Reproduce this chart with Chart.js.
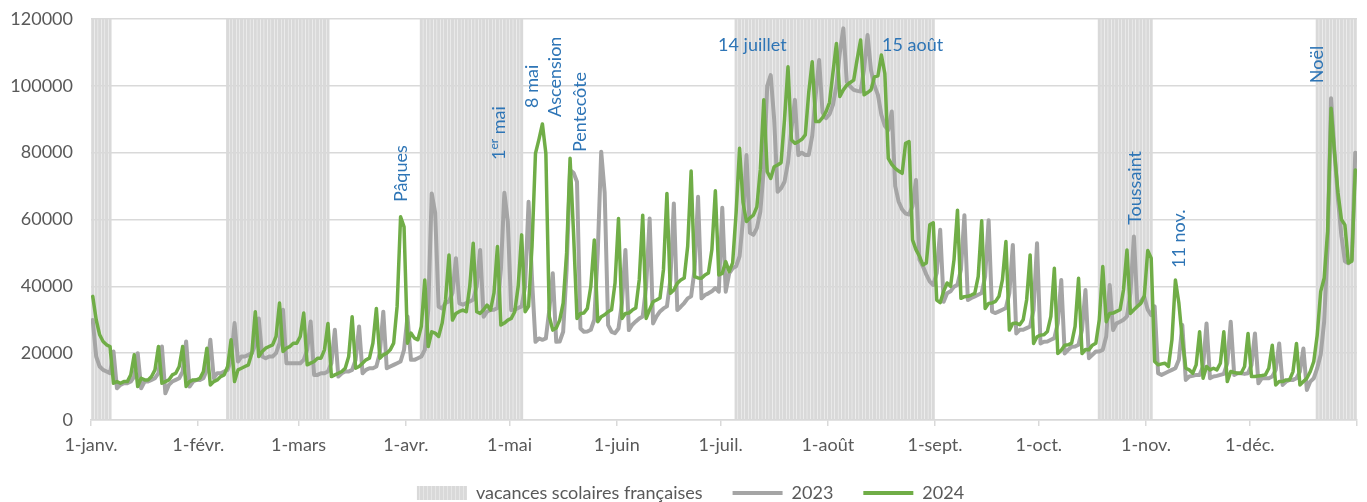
<!DOCTYPE html>
<html>
<head>
<meta charset="utf-8">
<script src="https://cdn.jsdelivr.net/npm/chart.js@4.4.1/dist/chart.umd.min.js"></script>
<style>
  html, body { margin: 0; padding: 0; background: #ffffff; }
  #wrap { width: 1367px; height: 502px; }
</style>
</head>
<body>
<div id="wrap"><canvas id="c" width="1367" height="502"></canvas></div>
<script>
// ---------- DATA ----------
const yearDays = 366;
const monthStartDays = [0, 31, 60, 91, 121, 152, 182, 213, 244, 274, 305, 335];
const monthLabels = ['1-janv.', '1-févr.', '1-mars', '1-avr.', '1-mai', '1-juin', '1-juil.', '1-août', '1-sept.', '1-oct.', '1-nov.', '1-déc.'];
const yTicks = [0, 20000, 40000, 60000, 80000, 100000, 120000];
const seriesNames = ['vacances scolaires françaises', '2023', '2024'];
// school holiday periods (first day index, last day index)
const vacationPeriods = [[0, 5], [39, 68], [95, 124], [186, 243], [291, 306], [354, 365]];
const vacationValue = 120000;

const visits2023 = [
29900, 19000, 16000, 15000, 14500, 14000,
20500, 9500, 10500, 11000, 11000, 11500, 13000,
20000, 9500, 11500, 11500, 12000, 12500, 14000,
22000, 8000, 10500, 11500, 12000, 12500, 14500,
23500, 10000, 11500, 12000, 12000, 12500, 15000,
24000, 12500, 14000, 14000, 14500, 15000, 18000,
29000, 17500, 19000, 19000, 19500, 20000, 22500,
30400, 19000, 18500, 19000, 19000, 20000, 23000,
33000, 17000, 17000, 17000, null, 17000, 18000,
21000, 29500, 13500, 13500, 14000, 14000, 14500,
17000, 27000, 13000, 14000, 14500, 14500, 15000,
18000, 28000, 14000, 15000, 15500, 15500, 16000,
20000, 32400, 15500, 16000, 16500, 17000, 17500,
21000, 31000, 18000, 18000, 18500, 19000, 21000,
33000, 67800, 62000, 33900, 33400, 35000, 35500,
38000, 48400, 34900, 34500, 35000, 35500, 36000,
40000, 50900, 30900, 32400, 32900, 33000, 33500,
45000, 68000, 59400, 32900, 33000, 33500, 34000,
40000, 65300, 42000, 23400, 24400, 24000, 24400,
33000, 43900, 23400, 23500, 26400, 45000, 74800,
74000, 71300, 27400, 26400, 26500, 27000, 30000,
50000, 80300, 68000, 28400, 26400, 26000, 27400,
35000, 50900, 26900, 28500, 29500, 30400, 31000,
40000, 60300, 28900, 31000, 32500, 33400, 34000,
42000, 64800, 32900, 33900, 35000, 36400, 37000,
45000, 66800, 36400, 37400, 37900, 38500, 39500,
38400, 63500, 38400, 43900, 45400, 46000, 49000,
60000, 79300, 56000, 55400, 57400, 62300, 75000,
100000, 103200, 90000, 68300, 69300, 71300, 77000,
87000, 95800, 79300, 80000, 79300, 79300, 85000,
97000, 107700, 92000, 90300, 91500, 94300, 100000,
110000, 117200, 101200, 99800, 98800, 98500, 98300,
105000, 115200, 104700, 100000, 97300, 91300, 88000,
86800, 92300, 70000, 65300, 63000, 61800, 61500,
64000, 71800, 48000, 46000, 43500, 41400, 40400,
44000, 56900, 35400, 37900, 38500, 39900, 40500,
45000, 61300, 35900, 36500, 37000, 37500, 38000,
43000, 59800, 32400, 32000, 32500, 33000, 33500,
38000, 52400, 25900, 27000, 27000, 27500, 28000,
33000, 52900, 22900, 23400, 23500, 24000, 24500,
29000, 41900, 19900, 21000, 21900, 22000, 22500,
27000, 38900, 18500, 19500, 20500, 20500, 21000,
25000, 40400, 26900, 28900, 29400, 30000, 31000,
38000, 54900, 34400, 35500, 36900, 33000, 31400,
34000, 14000, 13500, 14000, 14500, 15000, 15500,
18000, 28400, 12000, 13000, 13200, 13500, 13500,
16000, 28900, 12500, 13000, 13200, 13500, 13800,
17000, 29400, 13500, 14000, 14000, 13800, 14000,
16500, 25900, 11000, 12500, 12500, 12500, 13000,
15000, 22900, 10500, 11500, 12000, 12000, 12500,
14500, 21400, 9000, 11500, 12500, 15500, 19500,
29400, 51400, 96300, 80000, 66000, 55000, 47500,
46900, 48000, 80000
];

const visits2024 = [
37000, 30000, 25500, 23500, 22500, 22000,
11000, 11500, 11000, 11500, 11500, 13500, 19500,
10000, 12500, 12000, 12000, 13000, 15000, 22000,
11000, 11500, 12000, 13500, 14000, 16000, 22000,
10000, 11500, 12000, 12000, 12500, 14500, 21500,
10500, 11500, 12000, 13000, 13500, 16000, 24000,
11500, 15000, 15500, 16000, 16500, 20000, 32400,
19000, 20500, 21500, 22000, 22500, 25000, 35000,
20500, 21500, 22000, 23000, 23000, 25000, 32000,
16500, 17000, 17500, 18500, 18500, 21000, 28900,
13000, 13500, 14000, 14500, 15500, 19000, 30900,
15500, 16000, 17000, 18000, 18500, 23000, 33400,
18500, 19500, 20000, 21000, 23000, 34000, 60800,
57800, 23000, 26000, 24500, 24000, 28000, 41900,
22000, 26400, 26000, 25000, 28900, 36000, 49400,
29900, 31900, 32500, 32900, 32400, 40000, 52900,
32400, 31900, 33000, 34400, 32900, 38000, 51900,
28400, 29000, 29900, 30400, 32400, 40000, 55400,
32400, 34000, 52000, 79800, 84000, 88600, 79800,
30900, 26900, 27500, 29900, 35000, 50000, 78300,
56000, 30400, 31900, 32000, 33400, 40000, 53900,
29400, 30900, 31500, 32400, 33000, 41000, 60300,
30400, 31900, 32000, 32900, 33500, 42000, 61300,
30400, 33000, 35400, 35900, 36500, 45000, 67800,
37900, 38900, 40900, 41900, 42500, 52000, 74500,
42900, 42500, 42400, 43400, 44000, 51000, 68600,
43400, 43900, 47400, 44400, 47000, 62000, 81300,
65000, 59400, 60500, 61300, 63800, 75000, 95800,
74300, 72300, 75800, 76300, 77000, 90000, 105700,
83800, 82800, 83300, 84000, 85300, 98000, 107200,
89300, 89300, 90500, 92300, 95000, 104000, 112700,
96800, 98800, 100200, 101000, 101700, 108000, 113700,
97300, 98000, 98800, 102700, 103000, 109200, 103700,
78300, 76500, 75300, 74500, 73800, 82800, 83300,
53900, 51000, 49000, 46400, 47000, 58400, 59000,
35900, 35100, 38500, 41000, 40000, 48000, 62800,
36400, 36900, 37000, 37400, 37900, 43000, 59600,
33400, 34900, 35000, 35500, 37000, 42000, 53400,
26900, 28900, 29000, 28500, 30000, 36000, 49400,
22900, 24900, 25400, 25500, 26500, 31000, 45400,
19900, 20900, 22400, 22500, 23000, 28000, 42400,
19900, 21100, 21000, 22400, 23000, 30000, 45900,
29400, 31900, 32000, 32500, 33000, 39000, 50900,
31900, 33000, 34000, 34900, 37000, 50700, 48400,
17500, 16500, 16800, 17000, 16000, 24000, 41900,
35000, 24000, 15500, 15000, 14000, 16500, 26400,
12500, 16000, 15000, 15500, 15000, 17000, 26400,
11500, 14500, 14200, 14000, 14000, 16000, 25900,
13000, 13000, 13200, 13300, 13500, 15500, 22400,
10500, 11500, 11500, 12000, 12000, 14500, 22900,
10500, 11500, 12500, 14500, 17500, 25400, 38400,
42400, 56400, 93300, 80000, 68000, 60000, 58400,
47000, 47500, 74800
];

// Holiday labels (x in day units, y = value where the text starts)
const holidayNotes = [
  { parts: [['Pâques', 0]], x: 89.6, y: 65200, vertical: true },
  { parts: [['1', 0], ['er', 1], [' mai', 0]], x: 118.1, y: 77800, vertical: true },
  { parts: [['8 mai', 0]], x: 127.6, y: 93400, vertical: true },
  { parts: [['Ascension', 0]], x: 134.1, y: 90700, vertical: true },
  { parts: [['Pentecôte', 0]], x: 141.5, y: 80200, vertical: true },
  { parts: [['14 juillet', 0]], x: 181.3, y: 112200, vertical: false },
  { parts: [['15 août', 0]], x: 228.7, y: 112200, vertical: false },
  { parts: [['Toussaint', 0]], x: 302.0, y: 58400, vertical: true },
  { parts: [['11 nov.', 0]], x: 314.7, y: 45500, vertical: true },
  { parts: [['Noël', 0]], x: 354.4, y: 100800, vertical: true }
];

// ---------- BUILD ----------
const FONT = 'Lato';
const TEXT_COLOR = '#595959';
const NOTE_COLOR = '#2E75B6';
const GRID_COLOR = '#d9d9d9';

const toPoints = arr => arr.map((v, i) => ({ x: i + 0.5, y: v }));
const vacationPoints = [];
vacationPeriods.forEach(([a, b]) => { for (let d = a; d <= b; d++) vacationPoints.push({ x: d + 0.5, y: vacationValue }); });

// striped swatch for the legend (like the daily columns)
function stripePattern() {
  const c = document.createElement('canvas');
  c.width = 4; c.height = 4;
  const g = c.getContext('2d');
  g.fillStyle = '#d9d9d9'; g.fillRect(0, 0, 4, 4);
  g.fillStyle = '#e6e6e6'; g.fillRect(3, 0, 1, 4);
  return g.createPattern(c, 'repeat');
}
const swatch = stripePattern();

const notesPlugin = {
  id: 'notes',
  afterDatasetsDraw(chart) {
    const { ctx, scales: { x, y } } = chart;
    ctx.save();
    ctx.fillStyle = NOTE_COLOR;
    ctx.textBaseline = 'middle';
    ctx.textAlign = 'left';
    holidayNotes.forEach(n => {
      const px = x.getPixelForValue(n.x);
      const py = y.getPixelForValue(n.y);
      ctx.save();
      ctx.translate(px, py);
      if (n.vertical) ctx.rotate(-Math.PI / 2);
      let cx = 0;
      n.parts.forEach(([t, sup]) => {
        ctx.font = (sup ? '12px ' : '18px ') + FONT;
        ctx.fillText(t, cx, sup ? -5 : 0);
        cx += ctx.measureText(t).width;
      });
      ctx.restore();
    });
    ctx.restore();
  }
};

const layoutTweak = {
  id: 'layoutTweak',
  afterLayout(chart) {
    const lg = chart.legend;
    if (lg) {
      const pad = lg.options.labels.padding;
      const targetTop = 493 - pad - 9;
      const dy = targetTop - lg.top;
      lg.top += dy; lg.bottom += dy;
      const dx = 12;
      lg.left += dx; lg.right += dx;
    }
    // leave room so the month labels are not clipped
    const xs = chart.scales.x;
    xs.bottom = xs.top + 50;
    xs.height = 50;
  }
};

Chart.defaults.font.family = FONT;
Chart.defaults.font.size = 18;
Chart.defaults.color = TEXT_COLOR;

new Chart(document.getElementById('c'), {
  data: {
    datasets: [
      {
        type: 'bar', label: seriesNames[0], data: vacationPoints,
        backgroundColor: '#d9d9d9', borderWidth: 0,
        barPercentage: 0.88, categoryPercentage: 1.0, order: 3
      },
      {
        type: 'line', label: seriesNames[1], data: toPoints(visits2023),
        borderColor: '#a5a5a5', backgroundColor: '#a5a5a5', borderWidth: 4,
        pointRadius: 0, tension: 0, spanGaps: true,
        borderJoinStyle: 'round', borderCapStyle: 'round', order: 2
      },
      {
        type: 'line', label: seriesNames[2], data: toPoints(visits2024),
        borderColor: '#70ad47', backgroundColor: '#70ad47', borderWidth: 3.5,
        pointRadius: 0, tension: 0,
        borderJoinStyle: 'round', borderCapStyle: 'round', order: 1
      }
    ]
  },
  options: {
    responsive: false,
    animation: false,
    devicePixelRatio: 1,
    layout: { padding: { left: 0, right: 10, top: 19, bottom: 0 } },
    plugins: {
      tooltip: { enabled: false },
      legend: {
        position: 'bottom',
        labels: {
          usePointStyle: true,
          pointStyleWidth: 50,
          boxWidth: 50,
          boxHeight: 14,
          padding: 30,
          color: TEXT_COLOR,
          font: { family: FONT, size: 18 },
          generateLabels(chart) {
            return chart.data.datasets.map((ds, i) => ({
              text: ds.label,
              fillStyle: ds.type === 'bar' ? swatch : 'rgba(0,0,0,0)',
              strokeStyle: ds.borderColor || '#d9d9d9',
              lineWidth: ds.type === 'bar' ? 0 : 4,
              pointStyle: ds.type === 'bar' ? 'rect' : 'line',
              hidden: false,
              datasetIndex: i,
              fontColor: TEXT_COLOR
            }));
          }
        }
      }
    },
    scales: {
      x: {
        type: 'linear', min: 0, max: yearDays, offset: false,
        afterBuildTicks(scale) {
          scale.ticks = monthStartDays.concat([yearDays]).map(v => ({ value: v }));
        },
        afterFit(scale) { scale.height = 24; },
        ticks: {
          autoSkip: false, maxRotation: 0, padding: 8,
          color: TEXT_COLOR, font: { family: FONT, size: 18 },
          callback(value) {
            const i = monthStartDays.indexOf(value);
            return i >= 0 ? monthLabels[i] : '';
          }
        },
        grid: { offset: false, drawOnChartArea: false, drawTicks: true, tickLength: 6, color: GRID_COLOR, lineWidth: 1.5 },
        border: { display: true, color: GRID_COLOR, width: 1.5 }
      },
      y: {
        min: 0, max: 120000,
        afterBuildTicks(scale) { scale.ticks = yTicks.map(v => ({ value: v })); },
        afterFit(scale) { scale.width = 91; scale.paddingTop = 0; scale.paddingBottom = 0; },
        ticks: { padding: 18, color: TEXT_COLOR, font: { family: FONT, size: 18 }, callback: v => String(v) },
        grid: { color: GRID_COLOR, lineWidth: 1.5, drawTicks: false },
        border: { display: false }
      }
    }
  },
  plugins: [notesPlugin, layoutTweak]
});
</script>
</body>
</html>
